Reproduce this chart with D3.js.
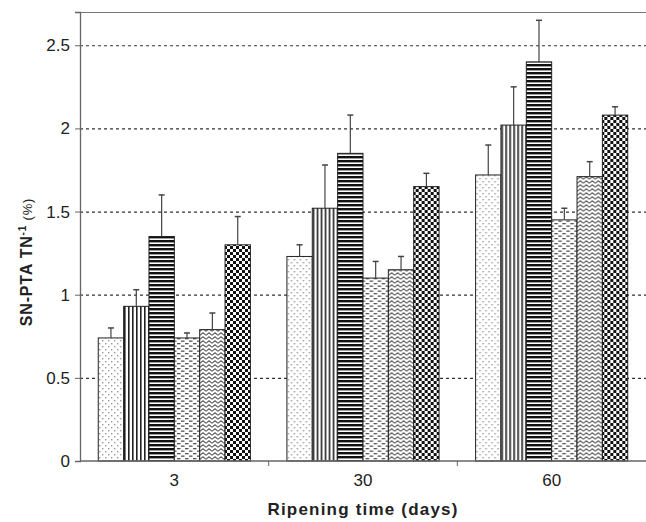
<!DOCTYPE html>
<html>
<head>
<meta charset="utf-8">
<script src="https://cdn.jsdelivr.net/npm/d3@7"></script>
<style>
  body { margin: 0; background: #fff; }
  svg { display: block; font-family: "Liberation Sans", Arial, sans-serif; }
</style>
</head>
<body>
<div id="chart"></div>
<script>
// ripening time categories and the six samples
var days = ["3", "30", "60"];
var samples = ["s1", "s2", "s3", "s4", "s5", "s6"];
var values = [
  [0.74, 0.93, 1.35, 0.74, 0.79, 1.30],
  [1.23, 1.52, 1.85, 1.10, 1.15, 1.65],
  [1.72, 2.02, 2.40, 1.45, 1.71, 2.08]
];
var errors = [
  [0.06, 0.10, 0.25, 0.03, 0.10, 0.17],
  [0.07, 0.26, 0.23, 0.10, 0.08, 0.08],
  [0.18, 0.23, 0.25, 0.07, 0.09, 0.05]
];
var yTicks = [0, 0.5, 1, 1.5, 2, 2.5];
var yTickLabels = ["0", "0.5", "1", "1.5", "2", "2.5"];

var W = 646, H = 522;
var margin = {top: 12, right: 0, bottom: 61, left: 80};
var width = W - margin.left - margin.right;
var height = H - margin.top - margin.bottom;

var svg = d3.select("#chart").append("svg")
  .attr("width", W).attr("height", H);

// fill patterns
var defs = svg.append("defs");
function pat(id, w, h) {
  return defs.append("pattern").attr("id", id)
    .attr("patternUnits", "userSpaceOnUse")
    .attr("width", w).attr("height", h);
}
var p;
p = pat("p0", 6, 6);
p.append("rect").attr("width", 6).attr("height", 6).attr("fill", "#fff");
p.append("rect").attr("x", 1).attr("y", 1).attr("width", 1.4).attr("height", 1.4).attr("fill", "#999");
p.append("rect").attr("x", 4).attr("y", 4).attr("width", 1.4).attr("height", 1.4).attr("fill", "#999");

p = pat("p1", 4, 4);
p.append("rect").attr("width", 4).attr("height", 4).attr("fill", "#fff");
p.append("rect").attr("x", 0).attr("width", 1.6).attr("height", 4).attr("fill", "#222");

p = pat("p2", 4, 4);
p.append("rect").attr("width", 4).attr("height", 4).attr("fill", "#fff");
p.append("rect").attr("y", 0).attr("width", 4).attr("height", 2.4).attr("fill", "#111");

p = pat("p3", 8, 5);
p.append("rect").attr("width", 8).attr("height", 5).attr("fill", "#fff");
p.append("rect").attr("x", 1).attr("y", 1).attr("width", 3.5).attr("height", 1.3).attr("fill", "#555");
p.append("rect").attr("x", 5).attr("y", 3.5).attr("width", 3).attr("height", 1.3).attr("fill", "#555");
p.append("rect").attr("x", 0).attr("y", 3.5).attr("width", 0.5).attr("height", 1.3).attr("fill", "#555");

p = pat("p4", 6, 4);
p.append("rect").attr("width", 6).attr("height", 4).attr("fill", "#fff");
p.append("polyline").attr("points", "0,3.2 3,0.8 6,3.2")
  .attr("fill", "none").attr("stroke", "#666").attr("stroke-width", 1.1);

p = pat("p5", 6, 6);
p.append("rect").attr("width", 6).attr("height", 6).attr("fill", "#fff");
p.append("rect").attr("x", 0).attr("y", 0).attr("width", 3).attr("height", 3).attr("fill", "#111");
p.append("rect").attr("x", 3).attr("y", 3).attr("width", 3).attr("height", 3).attr("fill", "#111");

var g = svg.append("g").attr("transform", "translate(" + margin.left + "," + margin.top + ")");

var x0 = d3.scaleBand().domain(days).range([0, width]).padding(0);
var x1 = d3.scaleBand().domain(samples).range([0, x0.bandwidth()]).paddingInner(0).paddingOuter(0.72);
var y = d3.scaleLinear().domain([0, 2.7]).range([height, 0]);

// dashed gridlines
g.selectAll(".grid").data(yTicks.slice(1)).enter().append("line")
  .attr("x1", 0).attr("x2", width)
  .attr("y1", function(d) { return y(d) + 0.5; })
  .attr("y2", function(d) { return y(d) + 0.5; })
  .attr("stroke", "#333").attr("stroke-width", 1.2)
  .attr("stroke-dasharray", "3,3");

// frame: top line
g.append("line").attr("x1", 0).attr("x2", width).attr("y1", 0.5).attr("y2", 0.5)
  .attr("stroke", "#777").attr("stroke-width", 1.2);

// bars
var groups = g.selectAll(".grp").data(values).enter().append("g")
  .attr("transform", function(d, i) { return "translate(" + x0(days[i]) + ",0)"; });

groups.selectAll("rect").data(function(d) { return d; }).enter().append("rect")
  .attr("x", function(d, i) { return x1(samples[i]); })
  .attr("y", function(d) { return y(d); })
  .attr("width", x1.bandwidth())
  .attr("height", function(d) { return height - y(d); })
  .attr("fill", function(d, i) { return "url(#p" + i + ")"; })
  .attr("stroke", "#222").attr("stroke-width", 1);

// error bars
groups.each(function(row, gi) {
  var gg = d3.select(this);
  row.forEach(function(v, i) {
    var cx = x1(samples[i]) + x1.bandwidth() / 2;
    var top = y(v + errors[gi][i]);
    gg.append("line").attr("x1", cx).attr("x2", cx)
      .attr("y1", y(v)).attr("y2", top)
      .attr("stroke", "#444").attr("stroke-width", 1.2);
    gg.append("line").attr("x1", cx - 3).attr("x2", cx + 3)
      .attr("y1", top).attr("y2", top)
      .attr("stroke", "#444").attr("stroke-width", 1.5);
  });
});

// y axis
var yAxis = d3.axisLeft(y).tickValues(yTicks)
  .tickFormat(function(d, i) { return yTickLabels[i]; })
  .tickSize(5).tickPadding(5);
var ya = g.append("g").call(yAxis);
ya.select(".domain").attr("stroke", "#666").attr("stroke-width", 1.3);
ya.selectAll(".tick line").attr("stroke", "#666");
ya.selectAll("text").attr("font-size", 17).attr("fill", "#222");

// x axis: ticks between categories, labels centred
var xa = g.append("g").attr("transform", "translate(0," + height + ")");
xa.append("line").attr("x1", 0).attr("x2", width).attr("stroke", "#666").attr("stroke-width", 1.3);
xa.selectAll(".xt").data(days.slice(1)).enter().append("line")
  .attr("x1", function(d) { return x0(d); }).attr("x2", function(d) { return x0(d); })
  .attr("y1", 0).attr("y2", 5).attr("stroke", "#666");
xa.selectAll(".xl").data(days).enter().append("text")
  .attr("x", function(d) { return x0(d) + x0.bandwidth() / 2; })
  .attr("y", 25)
  .attr("text-anchor", "middle").attr("font-size", 17).attr("fill", "#222")
  .text(function(d) { return d; });

// axis titles
svg.append("text")
  .attr("x", 363).attr("y", 515)
  .attr("text-anchor", "middle").attr("font-size", 17).attr("font-weight", "bold")
  .attr("letter-spacing", 1.2)
  .attr("fill", "#222")
  .text("Ripening time (days)");

var yt = svg.append("text")
  .attr("transform", "translate(32,262) rotate(-90)")
  .attr("text-anchor", "middle").attr("font-size", 16).attr("font-weight", "bold")
  .attr("letter-spacing", 0.8)
  .attr("fill", "#222");
yt.append("tspan").text("SN-PTA TN");
yt.append("tspan").attr("dy", -6).attr("font-size", 10).text("-1");
yt.append("tspan").attr("dy", 6).attr("font-size", 13).attr("font-weight", "normal").text(" (%)");
</script>
</body>
</html>
